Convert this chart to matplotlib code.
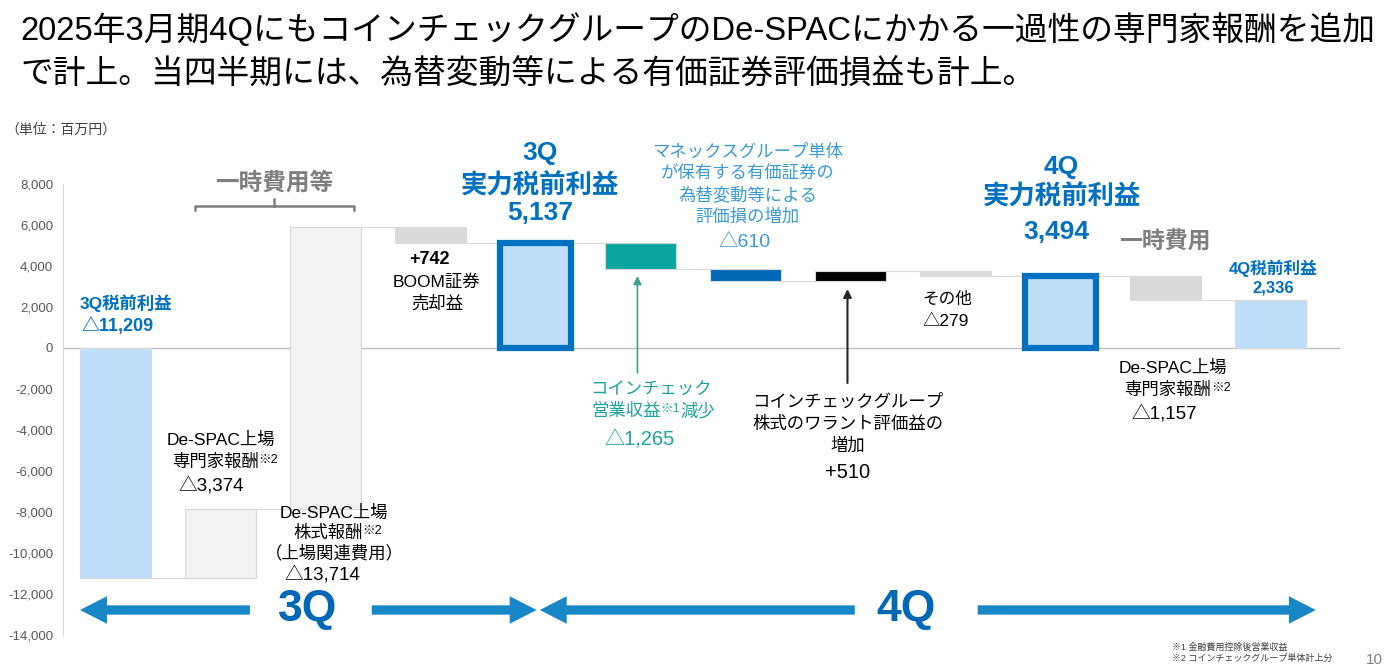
import numpy as np
import matplotlib
matplotlib.use('Agg')
import matplotlib.pyplot as plt
from matplotlib.patches import FancyArrowPatch, ArrowStyle

plt.rcParams['font.family'] = ['Liberation Sans', 'Noto Sans CJK JP', 'DejaVu Sans']

# waterfall data (百万円)
steps = ['3Q税前利益', 'De-SPAC上場専門家報酬', 'De-SPAC上場株式報酬', 'BOOM証券売却益',
         '3Q実力税前利益', 'コインチェック営業収益減少', '有価証券評価損の増加',
         'ワラント評価益の増加', 'その他', '4Q実力税前利益', '4Q De-SPAC上場専門家報酬',
         '4Q税前利益']
values = [-11209, 3374, 13714, -742, 5137, -1265, -610, 510, -279, 3494, -1157, 2336]
is_total = [True, False, False, False, True, False, False, False, False, True, False, True]
bar_colors = ['#BDDFF9', '#F2F2F2', '#F2F2F2', '#D9D9D9', '#BDDFF9', '#0AA59F',
              '#0068B7', '#000000', '#D9D9D9', '#BDDFF9', '#D9D9D9', '#BDDFF9']
highlight = [False, False, False, False, True, False, False, False, False, True, False, False]
yticks = list(range(-14000, 8001, 2000))

BLUE = '#0070C0'
GRAY_TXT = '#7F7F7F'
TEAL_TXT = '#1DA39F'
SKY_TXT = '#3A9AD9'
ARROW_BLUE = '#1787C8'

# bottoms / heights for each bar
bottoms, heights, levels = [], [], []
running = 0
for v, tot in zip(values, is_total):
    if tot:
        bottoms.append(0)
        running = v
    else:
        bottoms.append(running)
        running += v
    heights.append(v)
    levels.append(running)

fig = plt.figure(figsize=(13.91, 6.72), dpi=100)
ax = fig.add_axes([63 / 1391, 37 / 672, 1277 / 1391, 451 / 672])

x = np.arange(len(values))
w = 0.676
plain = [i for i in x if not highlight[i]]
boxed = [i for i in x if highlight[i]]
ax.bar(plain, [heights[i] for i in plain], bottom=[bottoms[i] for i in plain], width=w,
       color=[bar_colors[i] for i in plain], edgecolor='#D9D9D9', linewidth=0.8, zorder=3)
ax.bar(boxed, [heights[i] for i in boxed], bottom=[bottoms[i] for i in boxed], width=w,
       color=[bar_colors[i] for i in boxed], edgecolor=BLUE, linewidth=4.5, zorder=4)

# connectors
for i in range(len(values) - 1):
    ax.plot([i + w / 2, i + 1 - w / 2], [levels[i], levels[i]], color='#D9D9D9', lw=0.8, zorder=2)

ax.axhline(0, color='#BFBFBF', lw=1, zorder=1)
ax.set_xlim(-0.5, 11.66)
ax.set_ylim(-14000, 8000)
ax.set_yticks(yticks)
ax.set_yticklabels([f'{t:,}' for t in yticks], color='#595959', fontsize=9.5)
ax.set_xticks([])
ax.tick_params(axis='y', length=0, pad=7)
for s in ['top', 'right', 'bottom']:
    ax.spines[s].set_visible(False)
ax.spines['left'].set_color('#D9D9D9')


def lines(xc, ys, texts, **kw):
    out = []
    for yy, t in zip(ys, texts):
        out.append(ax.text(xc, yy, t, ha='center', va='center', **kw))
    return out


def sup(artist, s, color='black'):
    return ax.annotate(s, xy=(1, 1.0), xycoords=artist, ha='left', va='top',
                       fontsize=9, color=color)


# 3Q 税前利益
ax.text(0.10, 2195, '3Q税前利益', ha='center', va='center', fontsize=12.5, fontweight='bold', color=BLUE)
ax.text(0.02, 1073, '△11,209', ha='center', va='center', fontsize=13, fontweight='bold', color=BLUE)

# 一時費用等 brace
ax.text(1.51, 8049, '一時費用等', ha='center', va='center', fontsize=17, fontweight='bold',
        color=GRAY_TXT, clip_on=False)
ax.plot([0.757, 0.757, 2.27, 2.27], [6732, 6927, 6927, 6732], color=GRAY_TXT, lw=1.8, clip_on=False)
ax.plot([1.51, 1.51], [6927, 7268], color=GRAY_TXT, lw=1.8, clip_on=False)

# De-SPAC 専門家報酬 (3Q)
lines(1.0, [-4488], ['De-SPAC上場'], fontsize=12.5)
t = ax.text(0.95, -5561, '専門家報酬', ha='center', va='center', fontsize=12.5)
sup(t, '※2')
ax.text(0.91, -6780, '△3,374', ha='center', va='center', fontsize=13.5)

# De-SPAC 株式報酬
lines(2.08, [-8049], ['De-SPAC上場'], fontsize=12.5)
t = ax.text(2.02, -9024, '株式報酬', ha='center', va='center', fontsize=12.5)
sup(t, '※2')
lines(2.08, [-10000], ['（上場関連費用）'], fontsize=12.5)
ax.text(1.97, -11073, '△13,714', ha='center', va='center', fontsize=13.5)

# BOOM
ax.text(2.99, 4341, '+742', ha='center', va='center', fontsize=13, fontweight='bold')
lines(3.06, [3219, 2195], ['BOOM証券', '売却益'], fontsize=12.5)

# 3Q 実力
lines(4.04, [9512, 7902, 6585], ['3Q', '実力税前利益', '5,137'], fontsize=19,
      fontweight='bold', color=BLUE)

# Monex
lines(6.02, [9561, 8537, 7463, 6439],
      ['マネックスグループ単体', 'が保有する有価証券の', '為替変動等による', '評価損の増加'],
      fontsize=12.5, color=SKY_TXT)
ax.text(5.99, 5122, '△610', ha='center', va='center', fontsize=14, color=SKY_TXT)

# Coincheck 営業収益
ax.text(5.10, -2049, 'コインチェック', ha='center', va='center', fontsize=12.5, color=TEAL_TXT)
t1 = ax.text(4.86, -3073, '営業収益', ha='center', va='center', fontsize=12.5, color=TEAL_TXT)
s1 = sup(t1, '※1', color=TEAL_TXT)
ax.annotate('減少', xy=(1, 0), xycoords=(s1, t1), ha='left', va='bottom', fontsize=12.5, color=TEAL_TXT)
ax.text(4.99, -4488, '△1,265', ha='center', va='center', fontsize=14.5, color=TEAL_TXT)
ax.annotate('', xy=(4.97, 3512), xytext=(4.97, -1220),
            arrowprops=dict(arrowstyle='-|>', color='#3FA08E', lw=1.2, mutation_scale=12,
                            shrinkA=0, shrinkB=0))

# warrant
lines(6.97, [-2634, -3707, -4732],
      ['コインチェックグループ', '株式のワラント評価益の', '増加'], fontsize=12.5)
ax.text(6.97, -6049, '+510', ha='center', va='center', fontsize=14.5)
ax.annotate('', xy=(6.97, 2878), xytext=(6.97, -1707),
            arrowprops=dict(arrowstyle='-|>', color='#262626', lw=1.5, mutation_scale=12,
                            shrinkA=0, shrinkB=0))

# その他
ax.text(7.68, 2390, 'その他', ha='left', va='center', fontsize=12)
ax.text(7.68, 1317, '△279', ha='left', va='center', fontsize=12.5)

# 4Q 実力
lines(9.01, [8829, 7366], ['4Q', '実力税前利益'], fontsize=19, fontweight='bold', color=BLUE)
ax.text(8.96, 5658, '3,494', ha='center', va='center', fontsize=19, fontweight='bold', color=BLUE)

ax.text(9.99, 5171, '一時費用', ha='center', va='center', fontsize=16.5, fontweight='bold', color=GRAY_TXT)

# 4Q 税前利益
lines(11.02, [3902, 2927], ['4Q税前利益', '2,336'], fontsize=12, fontweight='bold', color=BLUE)

# De-SPAC 専門家報酬 (4Q)
lines(10.07, [-976], ['De-SPAC上場'], fontsize=12.5)
t = ax.text(10.02, -2049, '専門家報酬', ha='center', va='center', fontsize=12.5)
sup(t, '※2')
ax.text(9.99, -3220, '△1,157', ha='center', va='center', fontsize=13.5)

# period arrows
style = ArrowStyle('Simple', head_length=19.4, head_width=19.8, tail_width=6.7)
for x0, x1 in [(1.28, -0.338), (2.44, 4.01), (7.04, 4.04), (8.21, 11.43)]:
    ax.add_patch(FancyArrowPatch((x0, -12780), (x1, -12780), arrowstyle=style, mutation_scale=1,
                                 color=ARROW_BLUE, lw=0, shrinkA=0, shrinkB=0, clip_on=False))
ax.text(1.83, -12780, '3Q', ha='center', va='center', fontsize=32, fontweight='bold', color='#0068B7')
ax.text(7.53, -12780, '4Q', ha='center', va='center', fontsize=32, fontweight='bold', color='#0068B7')

# figure texts
fig.text(20 / 1391, 1 - 30 / 672, '2025年3月期4QにもコインチェックグループのDe-SPACにかかる一過性の専門家報酬を追加',
         ha='left', va='center', fontsize=23.6, color='black')
fig.text(20 / 1391, 1 - 75 / 672, 'で計上。当四半期には、為替変動等による有価証券評価損益も計上。',
         ha='left', va='center', fontsize=23.6, color='black')
fig.text(5 / 1391, 1 - 130 / 672, '（単位：百万円）', ha='left', va='center', fontsize=10, color='#404040')
fig.text(1172 / 1391, 1 - 647 / 672, '※1 金融費用控除後営業収益', ha='left', va='center', fontsize=6.5, color='#404040')
fig.text(1172 / 1391, 1 - 658 / 672, '※2 コインチェックグループ単体計上分', ha='left', va='center', fontsize=6.5, color='#404040')
fig.text(1383 / 1391, 1 - 660 / 672, '10', ha='right', va='center', fontsize=11, color='#808080')

fig.savefig('out.png', dpi=100)
